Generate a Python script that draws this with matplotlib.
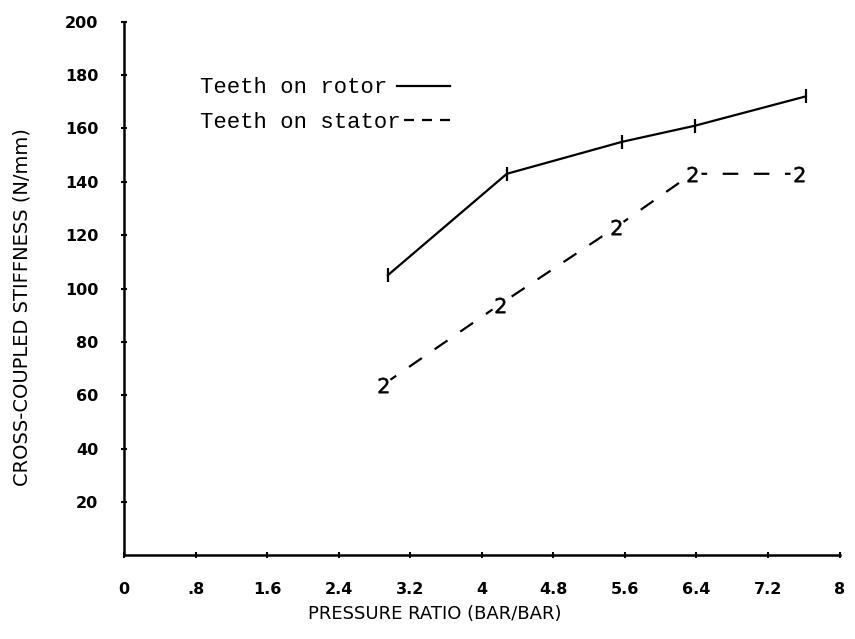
import matplotlib
matplotlib.use("Agg")
import matplotlib.pyplot as plt
from matplotlib.lines import Line2D

# Data
rotor_x = [2.95, 4.28, 5.57, 6.38, 7.62]
rotor_y = [105, 143, 155, 161, 172]
stator_x = [2.9, 4.2, 5.5, 6.35, 7.55]
stator_y = [64, 94, 123, 143, 143]

xticks = [0, 0.8, 1.6, 2.4, 3.2, 4.0, 4.8, 5.6, 6.4, 7.2, 8.0]
xtick_labels = ["0", ".8", "1.6", "2.4", "3.2", "4", "4.8", "5.6", "6.4", "7.2", "8"]
yticks = [20, 40, 60, 80, 100, 120, 140, 160, 180, 200]
ytick_labels = ["20", "40", "60", "80", "100", "120", "140", "160", "180", "200"]

series_labels = ["Teeth on rotor", "Teeth on stator"]
xlabel = "PRESSURE RATIO (BAR/BAR)"
ylabel = "CROSS-COUPLED STIFFNESS (N/mm)"

fig = plt.figure(figsize=(8.55, 6.39), dpi=100)
ax = fig.add_axes([0.145, 0.131, 0.837, 0.835])

dash = (0, (7, 7))
ax.plot(rotor_x, rotor_y, color="black", lw=1.6, marker="|", markersize=10,
        markeredgewidth=1.6, zorder=3)
ax.plot(stator_x, stator_y, color="black", lw=1.6, linestyle=dash, zorder=2)
# white backing so the dashed line breaks around the "2" symbols
ax.plot(stator_x, stator_y, linestyle="none", marker="o", markersize=12,
        markerfacecolor="white", markeredgecolor="white", zorder=2.5)
ax.plot(stator_x, stator_y, linestyle="none", marker="$2$", markersize=11,
        markeredgewidth=0.4, color="black", zorder=3)

ax.set_xlim(0, 8)
ax.set_ylim(0, 200)
ax.spines["top"].set_visible(False)
ax.spines["right"].set_visible(False)
ax.spines["left"].set_linewidth(1.8)
ax.spines["bottom"].set_linewidth(1.8)

ax.set_xticks(xticks)
ax.set_xticklabels(xtick_labels)
ax.set_yticks(yticks)
ax.set_yticklabels(ytick_labels)
ax.tick_params(axis="both", direction="inout", length=5, width=1.5,
               labelsize=11.5)
ax.tick_params(axis="x", pad=17)
ax.tick_params(axis="y", pad=16)
for lab in ax.get_xticklabels() + ax.get_yticklabels():
    lab.set_fontweight("bold")
    lab.set_family("DejaVu Sans")

ax.set_ylabel(ylabel, fontsize=14, family="DejaVu Sans", va="center")
ax.yaxis.set_label_coords(-0.143, 0.465)
fig.text(435 / 855, 1 - 614 / 639, xlabel, ha="center", va="center",
         fontsize=13, family="DejaVu Sans")

legend_font = {"family": "Liberation Mono", "size": 16}
h_rotor = Line2D([], [], color="black", lw=1.6)
h_stator = Line2D([], [], color="black", lw=1.6, linestyle=(0, (4.5, 3.6)))
leg1 = ax.legend([h_rotor], [series_labels[0]], loc="center left",
                 bbox_to_anchor=(0.106, 0.876), frameon=False,
                 markerfirst=False, prop=legend_font, handlelength=2.4,
                 handletextpad=0.45, borderpad=0, borderaxespad=0)
ax.add_artist(leg1)
ax.legend([h_stator], [series_labels[1]], loc="center left",
          bbox_to_anchor=(0.106, 0.812), frameon=False,
          markerfirst=False, prop=legend_font, handlelength=2.1,
          handletextpad=0.15, borderpad=0, borderaxespad=0)

fig.savefig("out.png", dpi=100)
